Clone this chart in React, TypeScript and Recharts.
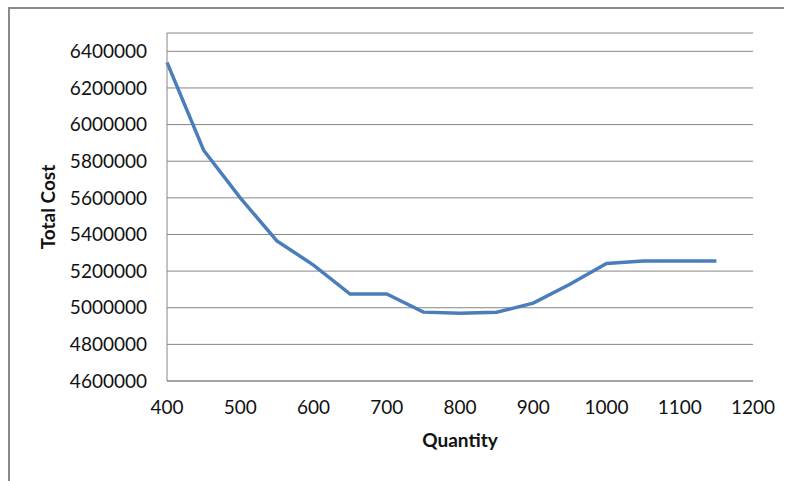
import React from "react";
import { LineChart, Line, XAxis, YAxis, CartesianGrid } from "recharts";

const quantities = [400, 450, 500, 550, 600, 650, 700, 750, 800, 850, 900, 950, 1000, 1050, 1100, 1150];
const totalCost = [
  6340000, 5860000, 5600000, 5365000, 5233000, 5075000, 5075000, 4976000,
  4970000, 4975000, 5025000, 5128000, 5242000, 5255000, 5255000, 5255000,
];
const xTicks = [400, 500, 600, 700, 800, 900, 1000, 1100, 1200];
const yTicks = [4600000, 4800000, 5000000, 5200000, 5400000, 5600000, 5800000, 6000000, 6200000, 6400000];

const data = quantities.map((q, i) => ({ q, cost: totalCost[i] }));

const font = "Lato, 'Open Sans', sans-serif";
const grey = "#868686";

export default function App() {
  return (
    <div style={{ position: "absolute", left: 0, top: 0, width: 787, height: 481, background: "#fff" }}>
      <div style={{ position: "absolute", left: 8, top: 7, width: 776, height: 2, background: "#8a8a8a" }} />
      <div style={{ position: "absolute", left: 8, top: 7, width: 2, height: 474, background: "#8a8a8a" }} />
      <LineChart
        width={787}
        height={481}
        data={data}
        margin={{ top: 33, right: 34, bottom: 40, left: 20 }}
        style={{ fontFamily: font }}
      >
        <CartesianGrid horizontal vertical={false} stroke={grey} strokeWidth={1} />
        <XAxis
          dataKey="q"
          type="number"
          domain={[400, 1200]}
          ticks={xTicks}
          height={60}
          tickLine={false}
          tickSize={0}
          tickMargin={20}
          axisLine={{ stroke: grey }}
          tick={{ fontSize: 19, fill: "#111" }}
          label={{
            value: "Quantity",
            position: "insideBottom",
            offset: -6,
            style: { fontSize: 19, fontWeight: 700, fill: "#111", fontFamily: font },
          }}
        />
        <YAxis
          type="number"
          domain={[4600000, 6500000]}
          ticks={yTicks}
          width={147}
          interval={0}
          tickLine={false}
          tickSize={0}
          tickMargin={20}
          axisLine={{ stroke: grey }}
          tick={{ fontSize: 19, fill: "#111" }}
          label={{
            value: "Total Cost",
            angle: -90,
            position: "insideLeft",
            offset: 28,
            style: { textAnchor: "middle", fontSize: 19, fontWeight: 700, fill: "#111", fontFamily: font },
          }}
        />
        <Line
          type="linear"
          dataKey="cost"
          stroke="#4A7EBB"
          strokeWidth={3.5}
          dot={false}
          isAnimationActive={false}
        />
      </LineChart>
    </div>
  );
}
